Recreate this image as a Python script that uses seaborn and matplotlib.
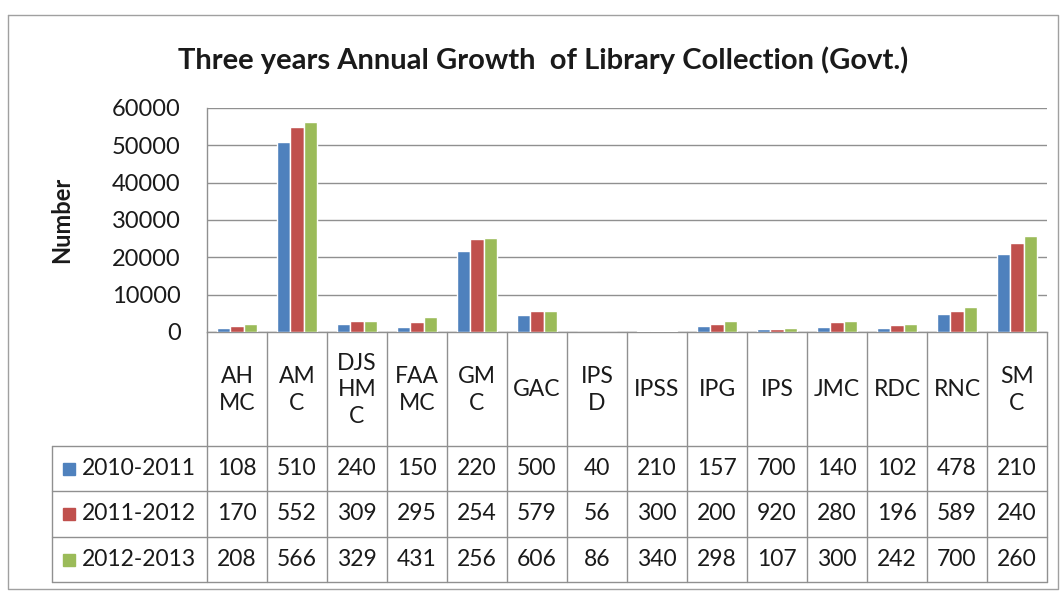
import pandas as pd
import matplotlib
matplotlib.use('Agg')
import matplotlib.pyplot as plt
import seaborn as sns

# data
categories = ['AHMC', 'AMC', 'DJSHMC', 'FAAMC', 'GMC', 'GAC', 'IPSD', 'IPSS',
              'IPG', 'IPS', 'JMC', 'RDC', 'RNC', 'SMC']
header_labels = ['AH\nMC', 'AM\nC', 'DJS\nHM\nC', 'FAA\nMC', 'GM\nC', 'GAC', 'IPS\nD',
                 'IPSS', 'IPG', 'IPS', 'JMC', 'RDC', 'RNC', 'SM\nC']
periods = ['2010-2011', '2011-2012', '2012-2013']

# bar heights (as drawn)
bars_2010 = [1080, 50800, 2200, 1300, 21600, 4500, 40, 210, 1700, 700, 1400, 1000, 4700, 20800]
bars_2011 = [1700, 55000, 2900, 2700, 24900, 5500, 56, 300, 2100, 920, 2800, 1900, 5700, 23800]
bars_2012 = [2050, 56300, 2950, 3900, 25100, 5600, 86, 340, 3000, 1070, 2900, 2200, 6800, 25800]

# numbers printed in the data table
table_2010 = [108, 510, 240, 150, 220, 500, 40, 210, 157, 700, 140, 102, 478, 210]
table_2011 = [170, 552, 309, 295, 254, 579, 56, 300, 200, 920, 280, 196, 589, 240]
table_2012 = [208, 566, 329, 431, 256, 606, 86, 340, 298, 107, 300, 242, 700, 260]

colors = ['#4F81BD', '#C0504D', '#9BBB59']

sns.set_style('white')
plt.rcParams['font.family'] = ['Lato', 'DejaVu Sans']

df = pd.DataFrame({
    'College': categories * 3,
    'Period': [p for p in periods for _ in categories],
    'Value': bars_2010 + bars_2011 + bars_2012,
})

W, H = 1063, 592
fig = plt.figure(figsize=(W / 100, H / 100), dpi=100)

# background layer in pixel coords for frame + data table
bg = fig.add_axes([0, 0, 1, 1])
bg.set_xlim(0, W)
bg.set_ylim(H, 0)
bg.axis('off')

px_left, px_right, px_top, px_bot = 207, 1047, 108, 332
ax = fig.add_axes([px_left / W, 1 - px_bot / H, (px_right - px_left) / W, (px_bot - px_top) / H])
ax.set_facecolor('none')

sns.barplot(data=df, x='College', y='Value', hue='Period', order=categories,
            hue_order=periods, palette=colors, width=0.67, saturation=1,
            legend=False, ax=ax, zorder=3)
ax.set_ylim(0, 60000)
ax.set_xlim(-0.5, len(categories) - 0.5)
ax.set_yticks(range(0, 60001, 10000))
ax.yaxis.grid(True, color='#909090', lw=1, zorder=0)
ax.set_axisbelow(True)
for s in ['top', 'right']:
    ax.spines[s].set_visible(False)
for s in ['left', 'bottom']:
    ax.spines[s].set_color('#909090')
    ax.spines[s].set_linewidth(1)
ax.set_xticks([])
ax.set_xlabel('')
ax.set_ylabel('')
ax.tick_params(axis='y', length=0, pad=19, labelsize=17, labelcolor='#1a1a1a')

# chart title and axis label
fig.text(543 / W, 1 - 60 / H, 'Three years Annual Growth  of Library Collection (Govt.)',
         ha='center', va='center', fontsize=21, fontweight='bold', color='#1a1a1a')
fig.text(62 / W, 1 - 220 / H, 'Number', rotation=90, ha='center', va='center',
         fontsize=17, fontweight='bold', color='#1a1a1a')

# outer chart frame
bg.plot([8, 1058, 1058, 8, 8], [15, 15, 589, 589, 15], color='#a0a0a0', lw=1)

# data table
col_w = (px_right - px_left) / len(categories)
row_edges = [446, 491, 537, 582]
line_c = '#909090'
for i in range(len(categories) + 1):
    x = px_left + i * col_w
    bg.plot([x, x], [px_bot, row_edges[-1]], color=line_c, lw=1)
for y in row_edges:
    bg.plot([52, px_right], [y, y], color=line_c, lw=1)
bg.plot([52, 52], [row_edges[0], row_edges[-1]], color=line_c, lw=1)

for i, lab in enumerate(header_labels):
    bg.text(px_left + (i + 0.5) * col_w, 390, lab, ha='center', va='center',
            fontsize=16.5, linespacing=1.35, color='#1a1a1a')

rows = [table_2010, table_2011, table_2012]
for r, (period, vals) in enumerate(zip(periods, rows)):
    yc = (row_edges[r] + row_edges[r + 1]) / 2
    bg.add_patch(plt.Rectangle((63, yc - 6), 12, 12, color=colors[r]))
    bg.text(82, yc, period, ha='left', va='center', fontsize=16.5, color='#1a1a1a')
    for i, v in enumerate(vals):
        bg.text(px_left + (i + 0.5) * col_w, yc, str(v), ha='center', va='center',
                fontsize=16.5, color='#1a1a1a')

fig.savefig('out.png', dpi=100, facecolor='white')
